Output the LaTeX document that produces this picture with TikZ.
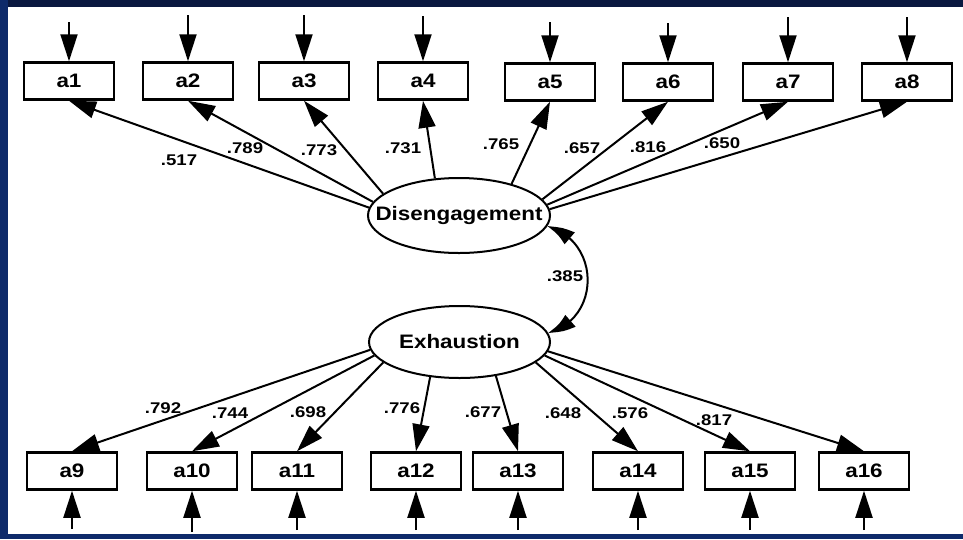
\documentclass[tikz,border=0pt]{standalone}
\usepackage{fontspec}
\setmainfont{Liberation Sans}
\usetikzlibrary{arrows.meta,shapes.geometric,bending}
\definecolor{navytop}{HTML}{0A1840}
\definecolor{navyside}{HTML}{0E2A6A}
\tikzset{
  obs/.style={draw, line width=2.5pt, minimum width=90pt, minimum height=37pt, inner sep=0pt,
    font=\bfseries\fontsize{19.5}{20}\selectfont},
  lat/.style={draw, ellipse, line width=2pt, inner sep=0pt},
  lattext/.style={inner sep=0pt, font=\bfseries\fontsize{19.5}{20}\selectfont},
  arr/.style={line width=2pt, -{Triangle[length=27pt,width=17pt]}},
  coef/.style={inner sep=0pt, font=\bfseries\fontsize{15.5}{15.5}\selectfont},
}
\newcommand{\wtxt}[1]{\scalebox{1.15}[1]{#1}}
\newcommand{\ctxt}[1]{\scalebox{1.2}[1]{#1}}
\begin{document}
\begin{tikzpicture}[x=1pt,y=-1pt]
\useasboundingbox (0,0) rectangle (963,539);
\fill[white] (0,0) rectangle (963,539);
\fill[navytop] (0,0) rectangle (963,7);
\fill[navyside] (0,0) rectangle (8,539);
\fill[navyside] (0,534) rectangle (963,539);

% latent variables
\node[lat, minimum width=182pt, minimum height=75pt,
  label={[lattext]center:\wtxt{Disengagement}}] (dis) at (459,215.5) {};
\node[lat, minimum width=181pt, minimum height=72pt,
  label={[lattext]center:\wtxt{Exhaustion}}] (exh) at (459.5,342) {};

% top indicators
\node[obs] (a1) at (69,81) {\wtxt{a1}};
\node[obs] (a2) at (188,81) {\wtxt{a2}};
\node[obs] (a3) at (304,81) {\wtxt{a3}};
\node[obs] (a4) at (423,81) {\wtxt{a4}};
\node[obs] (a5) at (550,82) {\wtxt{a5}};
\node[obs] (a6) at (668,82) {\wtxt{a6}};
\node[obs] (a7) at (788,82) {\wtxt{a7}};
\node[obs] (a8) at (907,82) {\wtxt{a8}};

% bottom indicators
\node[obs] (a9) at (72,471) {\wtxt{a9}};
\node[obs] (a10) at (192,471) {\wtxt{a10}};
\node[obs] (a11) at (297,471) {\wtxt{a11}};
\node[obs] (a12) at (416,471) {\wtxt{a12}};
\node[obs] (a13) at (518,471) {\wtxt{a13}};
\node[obs] (a14) at (638,471) {\wtxt{a14}};
\node[obs] (a15) at (750,471) {\wtxt{a15}};
\node[obs] (a16) at (864,471) {\wtxt{a16}};

% error terms (free ends)
\coordinate (e1) at (69,22);
\coordinate (e2) at (188,15);
\coordinate (e3) at (304,15);
\coordinate (e4) at (423,16);
\coordinate (e5) at (550,22);
\coordinate (e6) at (668,23);
\coordinate (e7) at (788,17);
\coordinate (e8) at (907,17);
\coordinate (e9) at (72,529);
\coordinate (e10) at (192,532);
\coordinate (e11) at (297,530);
\coordinate (e12) at (416,530);
\coordinate (e13) at (518,530);
\coordinate (e14) at (638,530);
\coordinate (e15) at (750,530);
\coordinate (e16) at (864,530);

\foreach \i in {1,...,8} { \draw[arr] (e\i) -- (a\i.north); }
\foreach \i in {9,...,16} { \draw[arr] (e\i) -- (a\i.south); }

% loadings
\draw[arr] (dis.175) -- (a1.south);
\draw[arr] (dis.171) -- (a2.south);
\draw[arr] (dis.164) -- (a3.south);
\draw[arr] (dis.123) -- (a4.south);
\draw[arr] (dis.31) -- (a5.south);
\draw[arr] (dis.11) -- (a6.south);
\draw[arr] (dis.7.5) -- (a7.south);
\draw[arr] (dis.4) -- (a8.south);

\draw[arr] (exh.185) -- (a9.north);
\draw[arr] (exh.189) -- (a10.north);
\draw[arr] (exh.195) -- (a11.north);
\draw[arr] (exh.230) -- (a12.north);
\draw[arr] (exh.317) -- (a13.north);
\draw[arr] (exh.345) -- (a14.north);
\draw[arr] (exh.351.5) -- (a15.north);
\draw[arr] (exh.354) -- (a16.north);

% covariance
\draw[line width=2pt, {Triangle[length=27pt,width=15pt,bend]}-{Triangle[length=27pt,width=15pt,bend]}]
  (dis.-7) .. controls (601,241) and (601,319) .. (exh.6);

% coefficients
\node[coef] (c1) at (179,160) {\ctxt{.517}};
\node[coef] (c2) at (245,148) {\ctxt{.789}};
\node[coef] (c3) at (319,150) {\ctxt{.773}};
\node[coef] (c4) at (403,148) {\ctxt{.731}};
\node[coef] (c5) at (501,144) {\ctxt{.765}};
\node[coef] (c6) at (582,148) {\ctxt{.657}};
\node[coef] (c7) at (648,147) {\ctxt{.816}};
\node[coef] (c8) at (722,143) {\ctxt{.650}};
\node[coef] (c9) at (163,408) {\ctxt{.792}};
\node[coef] (c10) at (230,413) {\ctxt{.744}};
\node[coef] (c11) at (308,412) {\ctxt{.698}};
\node[coef] (c12) at (402,408) {\ctxt{.776}};
\node[coef] (c13) at (483,412) {\ctxt{.677}};
\node[coef] (c14) at (563,413) {\ctxt{.648}};
\node[coef] (c15) at (630,413) {\ctxt{.576}};
\node[coef] (c16) at (714,420) {\ctxt{.817}};
\node[coef] (c17) at (565,276) {\ctxt{.385}};
\end{tikzpicture}
\end{document}
